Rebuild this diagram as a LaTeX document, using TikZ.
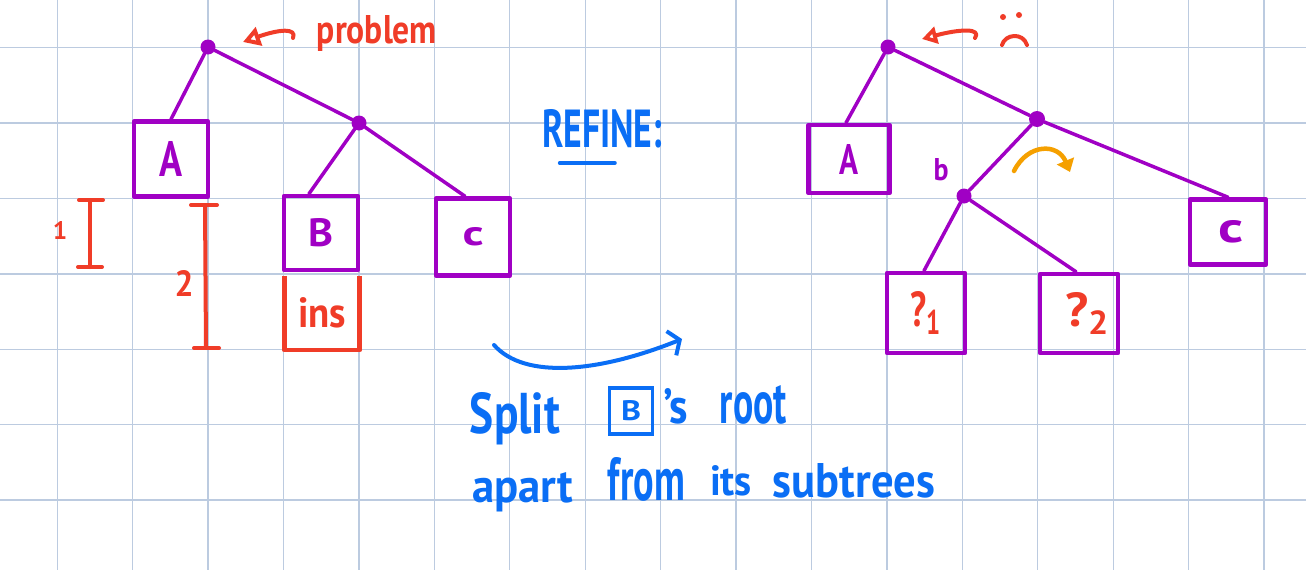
\documentclass[tikz,border=0pt]{standalone}
\usepackage{fontspec}
\setmainfont{PT Sans}
\usetikzlibrary{arrows.meta,calc}
\definecolor{pur}{HTML}{A000C4}
\definecolor{hred}{HTML}{F03C28}
\definecolor{hblue}{HTML}{0A6EF5}
\definecolor{horange}{HTML}{F5A000}
\definecolor{gridc}{HTML}{BCCBE0}
\newcommand{\hw}[3]{\resizebox{#1}{#2}{\bfseries #3}}
\begin{document}
\begin{tikzpicture}[x=1pt,y=-1pt,
  gridline/.style={gridc, line width=1.3pt},
  tree/.style={pur, line width=3.5pt, line cap=round},
  dot/.style={circle, fill=pur, inner sep=0pt, minimum size=15pt},
  pbox/.style={draw=pur, line width=4.5pt, inner sep=0pt, line join=round, text=pur},
  lbl/.style={inner sep=0pt, anchor=base},
  redstroke/.style={hred, line width=4pt, line cap=round, line join=round},
  bluestroke/.style={hblue, line width=4pt, line cap=round, line join=round}]
\fill[white] (0,0) rectangle (1306,570);
\useasboundingbox (0,0) rectangle (1306,570);
% grid
\foreach \i in {0,...,16} \draw[gridline] ({57.3+75.42*\i},0) -- ({57.3+75.42*\i},570);
\foreach \j in {0,...,6} \draw[gridline] (0,{47.7+75.4*\j}) -- (1306,{47.7+75.4*\j});

% ---------- left tree ----------
\node[dot] (rootL) at (208,47) {};
\node[dot] (midL) at (359,123) {};
\node[pbox, minimum width=74pt, minimum height=75pt] (boxA) at (171,159) {\hw{23pt}{35pt}{A}};
\node[pbox, minimum width=74pt, minimum height=74pt] (boxB) at (321,233) {\hw{25pt}{28pt}{B}};
\node[pbox, minimum width=74pt, minimum height=77pt] (boxC) at (473,237) {\hw{21pt}{18pt}{c}};
\node[inner sep=0pt, minimum width=75pt, minimum height=74pt, text=hred] (ins) at (322,313) {\hw{48pt}{30pt}{ins}};
\draw[hred, line width=4.5pt, line join=round] (ins.north west) -- (ins.south west) -- (ins.south east) -- (ins.north east);
\draw[tree] (rootL) -- (boxA.north);
\draw[tree] (rootL) -- (midL);
\draw[tree] (midL) -- ([xshift=-12pt]boxB.north);
\draw[tree] (midL) -- ([xshift=-8pt]boxC.north);

% problem annotation
\node[lbl, text=hred] (problem) at (377,43) {\hw{120pt}{28pt}{problem}};
\coordinate (probtail) at (293,38);
\coordinate (probtip) at (243,42);
\draw[redstroke, -{Triangle[open,length=17pt,width=19pt]}] (probtail) .. controls (297,28) and (280,29) .. (probtip);

% measurement markers
\coordinate (m1t) at (90,200);
\coordinate (m1b) at (90,267);
\draw[redstroke] (m1t) -- (m1b);
\draw[redstroke] ($(m1t)+(-11,0)$) -- ($(m1t)+(13,0)$);
\draw[redstroke] ($(m1b)+(-12,0)$) -- ($(m1b)+(12,0)$);
\node[lbl, text=hred] (one) at (60,239) {\hw{!}{18pt}{1}};
\coordinate (m2t) at (205,205);
\coordinate (m2b) at (206,348);
\draw[redstroke] (m2t) -- (m2b);
\draw[redstroke] ($(m2t)+(-14,0)$) -- ($(m2t)+(12,0)$);
\draw[redstroke] ($(m2b)+(-12,0)$) -- ($(m2b)+(13,0)$);
\node[lbl, text=hred] (two) at (184,296) {\hw{19pt}{26pt}{2}};

% ---------- middle ----------
\node[lbl, text=hblue] (refine) at (602,147) {\hw{120pt}{38pt}{REFINE:}};
\draw[bluestroke] ($(refine.base west)+(18,16)$) -- ($(refine.base west)+(73,16)$);
\coordinate (arrs) at (494,345);
\coordinate (arre) at (682,339);
\draw[bluestroke, -{Straight Barb[length=9pt,width=26pt]}] (arrs) .. controls (525,380) and (600,372) .. (arre);
\node[lbl, text=hblue] (wsplit) at (515,433) {\hw{90pt}{41pt}{Split}};
\node[draw=hblue, line width=3.5pt, inner sep=0pt, minimum width=43pt, minimum height=46pt, text=hblue] (wB) at (631,411) {\hw{20pt}{20pt}{B}};
\node[lbl, text=hblue] (wapos) at (675.5,423) {\hw{25pt}{35pt}{'s}};
\node[lbl, text=hblue] (wroot) at (753.5,423) {\hw{67pt}{38pt}{root}};
\node[lbl, text=hblue] (wapart) at (522.5,502) {\hw{101pt}{30pt}{apart}};
\node[lbl, text=hblue] (wfrom) at (646.5,500) {\hw{77pt}{43pt}{from}};
\node[lbl, text=hblue] (wits) at (731,495) {\hw{42pt}{30pt}{its}};
\node[lbl, text=hblue] (wsub) at (854,497) {\hw{162pt}{34pt}{subtrees}};

% ---------- right tree ----------
\node[dot] (rootR) at (888,47) {};
\node[dot, minimum size=16pt] (midR) at (1037,119) {};
\node[dot] (bR) at (964,196) {};
\node[pbox, minimum width=81pt, minimum height=68pt] (boxA2) at (849,159) {\hw{19pt}{30pt}{A}};
\node[pbox, minimum width=76pt, minimum height=65pt] (boxC2) at (1228,232) {\hspace{6pt}\hw{25pt}{22pt}{c}};
\node[pbox, minimum width=78pt, minimum height=80pt, text=hred] (q1) at (926,313) {\hw{32pt}{35pt}{?\textsubscript{1}}};
\node[pbox, minimum width=78pt, minimum height=79pt, text=hred] (q2) at (1079,313.5) {\hspace{18pt}\hw{46pt}{34pt}{?\textsubscript{2}}};
\draw[tree] (rootR) -- ([xshift=-3pt]boxA2.north);
\draw[tree] (rootR) -- (midR);
\draw[tree] (midR) -- (boxC2.north);
\draw[tree] (midR) -- (bR);
\draw[tree] (bR) -- ([xshift=-2pt]q1.north);
\draw[tree] (bR) -- ([xshift=-3pt]q2.north);
\node[lbl, text=pur] (blabel) at (941,180) {\hw{15pt}{22pt}{b}};

% sad annotation
\coordinate (sadtail) at (975,38);
\coordinate (sadtip) at (922,39);
\draw[redstroke, -{Triangle[open,length=15pt,width=17pt]}] (sadtail) .. controls (982,28) and (960,29) .. (sadtip);
\fill[hred] (1003,17) circle (3pt);
\fill[hred] (1019,15) circle (3pt);
\draw[redstroke] (1002,45) .. controls (1005,34) and (1023,32) .. (1027,45);

% orange move arrow
\coordinate (ors) at (1014,171);
\coordinate (ore) at (1070,172);
\draw[horange, line width=4.5pt, line cap=round, -{Triangle[length=12pt,width=18pt]}] (ors) .. controls (1028,143) and (1058,143) .. (ore);
\end{tikzpicture}
\end{document}
